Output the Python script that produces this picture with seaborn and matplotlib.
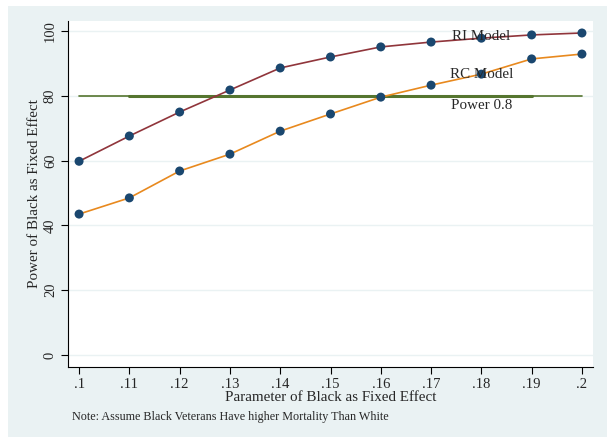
import matplotlib
matplotlib.use("Agg")
import matplotlib.pyplot as plt
import seaborn as sns
import pandas as pd
from matplotlib.patches import Rectangle

sns.set_style("white")
plt.rcParams['font.family'] = ['Liberation Serif', 'DejaVu Serif']

x_vals = [0.10, 0.11, 0.12, 0.13, 0.14, 0.15, 0.16, 0.17, 0.18, 0.19, 0.20]
x_labels = [".1", ".11", ".12", ".13", ".14", ".15", ".16", ".17", ".18", ".19", ".2"]
ri_power = [59.8, 67.6, 75.0, 81.8, 88.6, 92.0, 95.1, 96.6, 97.8, 98.8, 99.4]
rc_power = [43.5, 48.5, 56.8, 62.0, 69.1, 74.4, 79.6, 83.3, 86.7, 91.4, 92.9]
power_level = [80] * len(x_vals)
y_ticks = [0, 20, 40, 60, 80, 100]

df = pd.DataFrame({"x": x_vals, "RI": ri_power, "RC": rc_power, "P": power_level})

navy = "#1A476F"
maroon = "#90353B"
green = "#55752F"
orange = "#E8891E"
bg = "#EAF2F3"

fig = plt.figure(figsize=(6.07, 4.40), dpi=100)
fig.patch.set_facecolor("white")
fig.patches.append(Rectangle((8/607, 3/440), 1 - 8/607, 1 - 9/440, transform=fig.transFigure,
                             facecolor=bg, edgecolor="none", zorder=-10))
ax = fig.add_axes([68/607, 1 - 367/440, (593 - 68)/607, (367 - 21)/440])
ax.set_zorder(1)
ax.set_facecolor("white")

for yt in y_ticks:
    ax.axhline(yt, color=bg, lw=1.0, zorder=0)

sns.lineplot(data=df, x="x", y="P", ax=ax, color=green, lw=1.2, zorder=2)
sub = df.iloc[1:10]
sns.lineplot(data=sub, x="x", y="P", ax=ax, color=green, lw=2.2, zorder=2)
sns.lineplot(data=df, x="x", y="RI", ax=ax, color=maroon, lw=1.2, zorder=3)
sns.lineplot(data=df, x="x", y="RC", ax=ax, color=orange, lw=1.2, zorder=3)
sns.scatterplot(data=df, x="x", y="RI", ax=ax, color=navy, s=42, edgecolor="none", zorder=4)
sns.scatterplot(data=df, x="x", y="RC", ax=ax, color=navy, s=42, edgecolor="none", zorder=4)

ax.text(0.18, ri_power[8] + 0.5, "RI Model", ha="center", va="center", fontsize=10.8, zorder=5)
ax.text(0.18, 86.6, "RC Model", ha="center", va="center", fontsize=10.8, zorder=5)
ax.text(0.18, 77.0, "Power 0.8", ha="center", va="center", fontsize=10.8, zorder=5)

ax.set_xlim(0.0978, 0.2022)
ax.set_ylim(-3.7, 103.1)
ax.set_xticks(x_vals)
ax.set_xticklabels(x_labels, fontsize=10.5)
ax.set_yticks(y_ticks)
ax.set_yticklabels([str(v) for v in y_ticks], fontsize=10.5, rotation=90, va="center")
ax.tick_params(axis="both", direction="out", length=5, width=0.8, color="black", pad=3)
ax.tick_params(axis="both", which="both", bottom=True, left=True)
for s in ["top", "right"]:
    ax.spines[s].set_visible(False)
for s in ["left", "bottom"]:
    ax.spines[s].set_color("black")
    ax.spines[s].set_linewidth(0.8)
ax.set_xlabel("Parameter of Black as Fixed Effect", fontsize=10.8, labelpad=0)
ax.set_ylabel("Power of Black as Fixed Effect", fontsize=10.8, labelpad=2)

fig.text(72/607, 1 - 417/440, "Note: Assume Black Veterans Have higher Mortality Than White",
         fontsize=8.75, va="center", ha="left")

fig.savefig("out.png", dpi=100, facecolor=fig.get_facecolor())
